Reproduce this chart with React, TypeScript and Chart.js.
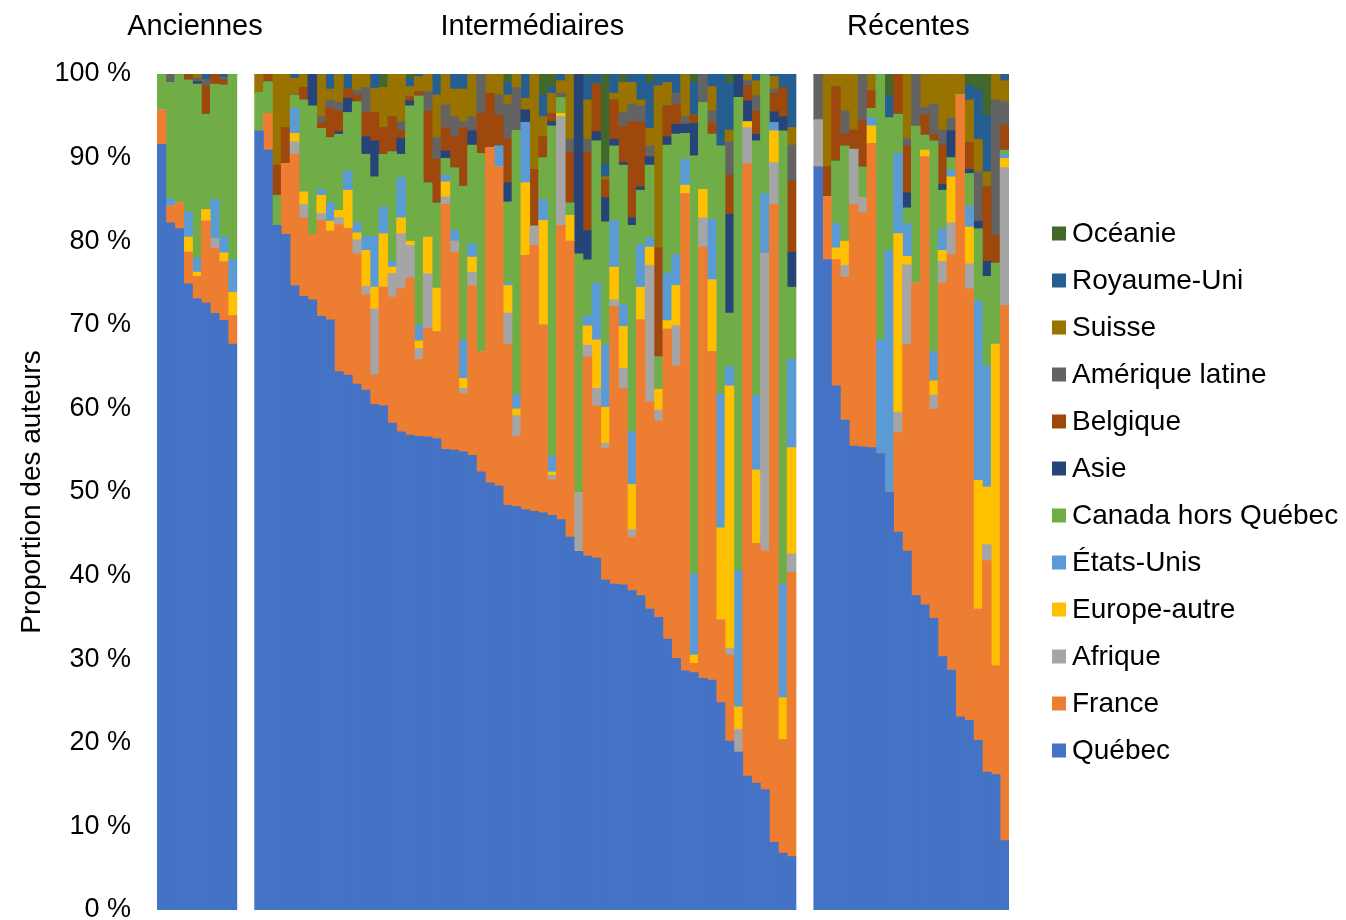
import React, { useEffect, useRef } from 'react';
import { Chart, registerables } from 'chart.js';

Chart.register(...registerables);

const SERIES = ['Québec', 'France', 'Afrique', 'Europe-autre', 'États-Unis', 'Canada hors Québec', 'Asie', 'Belgique', 'Amérique latine', 'Suisse', 'Royaume-Uni', 'Océanie'];
const COLORS = ['#4472C4', '#ED7D31', '#A5A5A5', '#FFC000', '#5B9BD5', '#70AD47', '#264478', '#9E480E', '#636363', '#997300', '#255E91', '#43682B'];
const GROUPS = ['Anciennes', 'Intermédiaires', 'Récentes'];
const Y_TICKS = [0, 10, 20, 30, 40, 50, 60, 70, 80, 90, 100];

// Each row: one journal, values in SERIES order (%)
const ANCIENNES = [
  [91.6, 4.1, 0, 0, 0, 4.3, 0, 0, 0, 0, 0, 0],
  [82.2, 2.0, 0, 0, 0.9, 13.9, 0, 0, 1.0, 0, 0, 0],
  [81.5, 3.1, 0, 0, 0, 15.4, 0, 0, 0, 0, 0, 0],
  [74.9, 3.8, 0, 1.8, 3.0, 15.8, 0, 0.7, 0, 0, 0, 0],
  [73.1, 2.7, 0, 0.5, 1.7, 20.8, 0.3, 0, 0.4, 0.5, 0, 0],
  [72.6, 9.8, 0, 1.4, 0, 11.4, 0, 3.4, 0.7, 0, 0.7, 0],
  [71.3, 7.8, 1.1, 0, 4.7, 13.8, 0, 1.2, 0, 0, 0, 0],
  [70.6, 7.0, 0, 1.1, 1.9, 18.2, 0, 0.6, 0.3, 0, 0.4, 0],
  [67.7, 3.4, 0, 2.8, 3.9, 22.2, 0, 0, 0, 0, 0, 0],
];

const INTERMEDIAIRES = [
  [93.2, 0, 0, 0, 0, 4.6, 0, 0, 0, 2.2, 0, 0],
  [90.9, 4.4, 0, 0, 0, 3.8, 0, 0.9, 0, 0, 0, 0],
  [81.9, 0, 0, 0, 0, 3.6, 0, 3.6, 0, 10.9, 0, 0],
  [80.9, 8.5, 0, 0, 0, 0, 0, 4.3, 0, 6.4, 0, 0],
  [74.7, 15.7, 1.5, 1.0, 3.0, 1.6, 0, 0, 0, 2.0, 0.5, 0],
  [73.4, 9.4, 1.6, 1.5, 0, 11.0, 0, 1.5, 0, 1.6, 0, 0],
  [73.0, 7.8, 0, 0, 0, 15.4, 3.8, 0, 0, 0, 0, 0],
  [71.0, 11.5, 0.8, 2.2, 0.7, 7.3, 0, 0.7, 0.7, 5.1, 0, 0],
  [70.6, 10.6, 0, 1.2, 2.2, 7.8, 0, 3.5, 1.0, 1.3, 1.8, 0],
  [64.4, 17.6, 0.8, 0.9, 0, 9.1, 0.3, 2.5, 1.0, 3.4, 0, 0],
  [64.0, 17.5, 0, 4.6, 2.3, 7.0, 1.7, 1.1, 0, 0, 1.8, 0],
  [62.9, 15.6, 1.7, 0.8, 1.2, 14.5, 0, 0.8, 0.5, 2.0, 0, 0],
  [62.2, 11.4, 1.0, 4.3, 1.7, 9.8, 2.1, 2.9, 3.0, 1.6, 0, 0],
  [60.5, 3.5, 7.9, 2.6, 6.1, 7.1, 4.3, 3.4, 0, 2.9, 1.7, 0],
  [60.3, 14.2, 0, 6.4, 3.2, 6.3, 0, 3.2, 0, 4.8, 0, 1.6],
  [58.3, 15.1, 2.8, 0.8, 0.7, 13.1, 0, 4.2, 0, 5.1, 0, 0],
  [57.2, 17.1, 6.6, 1.9, 4.8, 2.8, 1.9, 1.0, 1.0, 5.7, 0, 0],
  [56.8, 18.8, 3.9, 0.5, 0, 16.2, 0.6, 0.5, 0, 1.2, 1.0, 0.5],
  [56.6, 9.2, 1.3, 0.9, 1.9, 27.4, 0, 0.5, 0, 1.8, 0.3, 0],
  [56.6, 13.0, 6.5, 4.4, 0, 6.5, 0, 8.6, 2.3, 2.1, 0, 0],
  [56.4, 12.8, 0, 5.2, 0, 10.2, 0, 5.2, 2.6, 5.1, 2.5, 0],
  [55.1, 29.3, 0.9, 1.8, 0.8, 2.0, 0.9, 2.8, 2.7, 3.7, 0, 0],
  [55.0, 23.7, 1.3, 0, 1.3, 7.5, 0, 3.7, 2.4, 3.3, 1.8, 0],
  [54.8, 7.0, 0.6, 1.2, 4.6, 18.4, 0, 7.0, 0.7, 3.9, 1.8, 0],
  [54.4, 20.3, 1.6, 1.8, 1.6, 11.8, 1.7, 0, 1.7, 5.1, 0, 0],
  [52.4, 14.4, 0, 0, 0, 23.7, 0, 4.8, 4.7, 0, 0, 0],
  [51.1, 40.1, 0, 0, 0, 0, 0, 6.5, 0, 2.3, 0, 0],
  [50.7, 38.2, 0, 0, 2.5, 0, 0, 3.7, 2.4, 2.5, 0, 0],
  [48.4, 19.3, 3.7, 3.3, 0.3, 9.7, 2.3, 5.3, 4.1, 1.1, 1.5, 1.0],
  [48.3, 8.4, 2.5, 0.8, 1.7, 31.7, 0, 0, 5.1, 1.6, 0, 0],
  [47.9, 30.4, 0, 8.7, 7.2, 0, 1.5, 0, 0, 1.4, 2.9, 0],
  [47.7, 31.8, 2.3, 0, 0, 0, 0, 6.8, 0, 11.4, 0, 0],
  [47.5, 22.5, 0, 12.5, 2.5, 5.0, 0, 2.5, 0, 2.4, 2.6, 2.5],
  [47.2, 4.3, 0.5, 0.4, 1.9, 39.5, 0.5, 1.0, 0, 2.4, 0.8, 1.5],
  [46.7, 35.2, 13.0, 0.4, 0, 1.9, 0, 0, 0.5, 1.5, 0.8, 0],
  [44.6, 35.4, 0, 3.1, 0, 1.5, 0, 6.1, 1.5, 7.8, 0, 0],
  [42.9, 0, 7.0, 0, 0, 28.6, 21.5, 0, 0, 0, 0, 0],
  [42.3, 23.8, 1.4, 2.3, 1.2, 6.7, 3.5, 9.4, 1.5, 4.7, 2.8, 0.3],
  [42.1, 18.2, 2.1, 5.8, 6.8, 17.0, 1.1, 5.7, 0, 0, 1.2, 0],
  [39.5, 15.8, 0.6, 4.3, 7.5, 14.7, 2.9, 2.1, 0, 0.4, 1.5, 10.8],
  [39.0, 33.2, 0.8, 3.9, 5.6, 8.9, 0.8, 4.7, 0, 0.8, 2.3, 0],
  [38.9, 23.5, 2.4, 5.0, 2.6, 16.7, 0.3, 4.3, 1.7, 3.6, 0, 1.0],
  [38.2, 6.4, 0.9, 5.4, 6.3, 24.7, 0.9, 11.5, 2.1, 2.6, 1.0, 0],
  [37.6, 33.0, 0, 3.9, 5.1, 6.5, 0.4, 7.8, 1.9, 0.7, 3.1, 0],
  [36.0, 24.8, 16.3, 2.2, 1.1, 8.7, 1.0, 0, 1.3, 2.1, 5.5, 1.0],
  [35.0, 23.5, 1.3, 2.5, 0, 3.9, 0, 13.0, 0, 19.4, 1.4, 0],
  [32.4, 37.1, 0, 1.0, 5.7, 15.3, 1.0, 3.7, 0, 2.8, 1.0, 0],
  [30.1, 35.0, 4.8, 4.8, 3.7, 14.4, 1.2, 2.4, 1.3, 0, 2.3, 0],
  [28.6, 57.1, 0, 1.0, 3.1, 3.1, 1.1, 0, 0.9, 5.1, 0, 0],
  [28.4, 1.1, 0, 1.0, 9.7, 50.0, 3.9, 1.0, 0, 0, 3.9, 1.0],
  [27.7, 51.6, 3.5, 3.4, 0, 10.4, 0, 0, 3.4, 0, 0, 0],
  [27.5, 39.3, 0, 8.6, 7.2, 10.2, 0, 1.4, 1.4, 2.9, 1.5, 0],
  [24.8, 9.9, 0, 11.0, 16.0, 29.7, 0, 0, 0, 0, 8.6, 0],
  [20.2, 10.3, 0.8, 31.4, 2.3, 6.4, 11.8, 4.7, 4.0, 1.4, 5.6, 1.1],
  [18.9, 0, 2.7, 2.7, 16.3, 56.6, 2.8, 0, 0, 0, 0, 0],
  [16.0, 73.2, 4.3, 0.7, 0, 0, 2.5, 1.8, 0.6, 0.8, 0, 0],
  [15.2, 28.7, 0, 8.8, 8.9, 30.5, 0.8, 2.8, 1.8, 1.8, 0.8, 0],
  [14.4, 28.6, 35.5, 0, 7.2, 14.3, 0, 0, 0, 0, 0, 0],
  [8.1, 76.3, 5.0, 3.8, 1.0, 0, 1.3, 2.2, 0.5, 1.5, 0.3, 0],
  [6.8, 13.6, 0, 5.0, 13.6, 54.2, 1.7, 3.5, 0, 0, 1.6, 0],
  [6.4, 34.0, 2.2, 12.7, 10.6, 8.6, 4.2, 8.5, 4.3, 2.1, 6.4, 0],
];

const RECENTES = [
  [88.9, 0, 5.6, 0, 0, 0, 0, 0, 5.5, 0, 0, 0],
  [77.8, 7.5, 0, 0, 0, 0, 0, 3.6, 0, 11.1, 0, 0],
  [62.7, 15.1, 0, 1.4, 2.9, 7.5, 0, 8.9, 0, 1.5, 0, 0],
  [58.6, 17.1, 1.4, 2.9, 0, 11.4, 0, 1.4, 2.8, 4.4, 0, 0],
  [55.5, 28.9, 6.6, 0, 0, 0, 0, 2.3, 0, 6.7, 0, 0],
  [55.4, 28.0, 1.8, 0, 0, 3.7, 0, 5.6, 5.5, 0, 0, 0],
  [55.3, 36.4, 0, 2.1, 1.0, 1.1, 0, 2.1, 0, 2.0, 0, 0],
  [54.6, 0, 0, 0, 13.6, 31.8, 0, 0, 0, 0, 0, 0],
  [50.0, 0, 0, 0, 28.9, 15.9, 0, 0, 0, 0, 2.6, 2.6],
  [45.2, 11.9, 2.4, 21.4, 9.6, 4.7, 0, 4.8, 0, 0, 0, 0],
  [42.9, 24.7, 9.5, 1.0, 3.9, 1.9, 1.8, 5.6, 0.9, 7.7, 0, 0],
  [37.6, 37.4, 0, 0, 0, 18.8, 0, 0, 6.2, 0, 0, 0],
  [36.5, 53.6, 0, 0.8, 0, 1.8, 0, 2.4, 0.9, 4.0, 0, 0],
  [34.9, 25.0, 1.7, 1.7, 3.5, 25.2, 0, 0.8, 3.6, 3.6, 0, 0],
  [30.3, 44.7, 2.6, 1.3, 2.6, 4.6, 0.7, 4.7, 1.8, 6.7, 0, 0],
  [28.7, 49.7, 3.8, 5.5, 0.8, 1.5, 3.2, 0, 1.5, 5.3, 0, 0],
  [23.1, 74.4, 0, 0, 0, 0, 0, 0, 0, 2.5, 0, 0],
  [22.7, 51.6, 3.0, 4.4, 2.5, 3.9, 0.5, 3.2, 0, 5.1, 1.8, 1.3],
  [20.3, 15.7, 0, 15.4, 21.5, 8.6, 0.9, 0, 5.9, 3.9, 5.9, 1.9],
  [16.5, 25.3, 1.9, 6.9, 14.5, 10.7, 1.8, 8.9, 0, 1.8, 6.8, 4.9],
  [16.2, 13.0, 0, 38.5, 0, 9.7, 0, 3.3, 16.2, 3.1, 0, 0],
  [8.3, 64.0, 16.5, 1.1, 0.5, 0.5, 0, 3.0, 2.8, 2.5, 0.8, 0],
];

const GROUP_ROWS = [ANCIENNES, INTERMEDIAIRES, RECENTES];
const GAP = 2;
const FONT = '"Liberation Sans", Arial, sans-serif';

function buildTable() {
  const labels: string[] = [];
  const rows: (number[] | null)[] = [];
  const ranges: [number, number][] = [];
  GROUP_ROWS.forEach((g, gi) => {
    if (gi > 0) for (let k = 0; k < GAP; k++) { labels.push(''); rows.push(null); }
    const start = labels.length;
    g.forEach((r, i) => {
      const sum = r.reduce((a, b) => a + b, 0);
      labels.push(`${GROUPS[gi]} ${i + 1}`);
      rows.push(r.map((v) => (v * 100) / sum));
    });
    ranges.push([start, labels.length - 1]);
  });
  return { labels, rows, ranges };
}

export default function App() {
  const ref = useRef<HTMLCanvasElement | null>(null);
  useEffect(() => {
    if (!ref.current) return;
    const { labels, rows, ranges } = buildTable();
    const datasets = SERIES.map((name, si) => ({
      label: name,
      data: rows.map((r) => (r ? r[si] : null)),
      backgroundColor: COLORS[si],
      borderWidth: 0,
      categoryPercentage: 1,
      barPercentage: 1,
      stack: 's',
    }));

    const overlay = {
      id: 'overlay',
      afterDraw(chart: any) {
        const ctx = chart.ctx;
        const xs = chart.scales.x;
        const area = chart.chartArea;
        ctx.save();
        ctx.fillStyle = '#000';
        ctx.font = `29px ${FONT}`;
        ctx.textAlign = 'center';
        ctx.textBaseline = 'middle';
        const dx = [-2, 7, -3];
        ranges.forEach(([a, b], gi) => {
          const cx = (xs.getPixelForValue(a) + xs.getPixelForValue(b)) / 2 + dx[gi];
          ctx.fillText(GROUPS[gi], cx, 27);
        });
        // legend (reversed order)
        ctx.font = `28px ${FONT}`;
        const n = SERIES.length;
        const spacing = 47;
        const mid = (area.top + area.bottom) / 2;
        ctx.textAlign = 'left';
        for (let k = 0; k < n; k++) {
          const si = n - 1 - k;
          const y = mid + (k - (n - 1) / 2) * spacing;
          ctx.fillStyle = COLORS[si];
          ctx.fillRect(1052, y - 7, 14, 14);
          ctx.fillStyle = '#000';
          ctx.fillText(SERIES[si], 1072, y + 1);
        }
        ctx.restore();
      },
    };

    const chart = new Chart(ref.current, {
      type: 'bar',
      data: { labels, datasets },
      options: {
        animation: false,
        responsive: false,
        maintainAspectRatio: false,
        layout: { padding: { top: 74, right: 337, bottom: 10, left: 0 } },
        plugins: { legend: { display: false }, tooltip: { enabled: false } },
        scales: {
          x: { stacked: true, display: false },
          y: {
            stacked: true,
            min: 0,
            max: 100,
            afterFit: (s: any) => {
              s.width = 157;
              s.paddingTop = 0;
              s.paddingBottom = 0;
            },
            afterBuildTicks: (s: any) => { s.ticks = Y_TICKS.map((v) => ({ value: v })); },
            grid: { display: false, drawTicks: false },
            border: { display: false },
            ticks: {
              padding: 26,
              color: '#000',
              font: { family: FONT, size: 27 },
              callback: (v: any) => `${v} %`,
            },
            title: {
              display: true,
              text: 'Proportion des auteurs',
              color: '#000',
              font: { family: FONT, size: 28 },
              padding: { top: 15, bottom: 0 },
            },
          },
        },
      },
      plugins: [overlay],
    } as any);
    return () => chart.destroy();
  }, []);
  return (
    <div style={{ position: 'absolute', left: 0, top: 0, width: 1346, height: 920, background: '#fff' }}>
      <canvas ref={ref} width={1346} height={920} style={{ width: 1346, height: 920 }} />
    </div>
  );
}
